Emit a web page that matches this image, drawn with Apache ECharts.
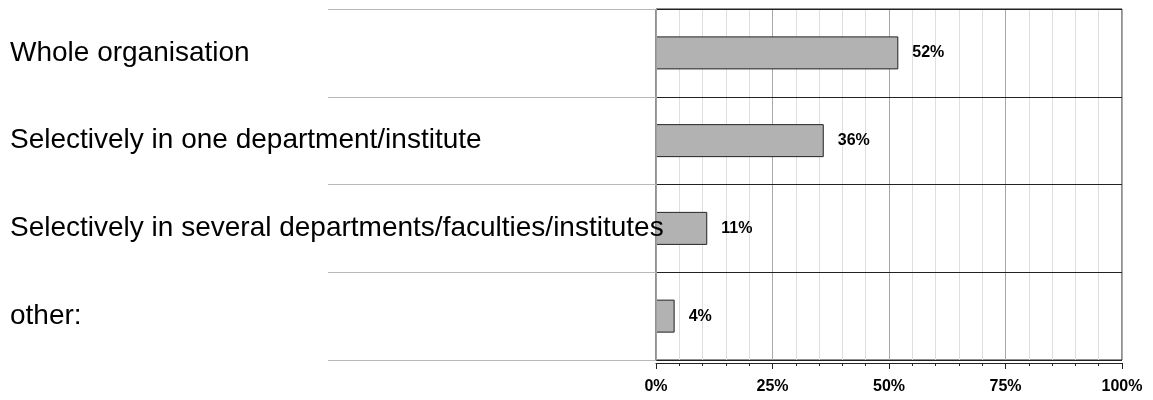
<!DOCTYPE html>
<html>
<head>
<meta charset="utf-8">
<script src="https://cdn.jsdelivr.net/npm/echarts@6/dist/echarts.min.js"></script>
<style>
html,body{margin:0;padding:0;background:#fff;}
#chart{width:1153px;height:400px;}
</style>
</head>
<body>
<div id="chart"></div>
<script>
const categories = [
  'Whole organisation',
  'Selectively in one department/institute',
  'Selectively in several departments/faculties/institutes',
  'other:'
];
const values = [52, 36, 11, 4];
const tickLabels = ['0%', '25%', '50%', '75%', '100%'];

const FONT = '"Liberation Sans", Arial, sans-serif';
const chart = echarts.init(document.getElementById('chart'), null, {renderer: 'canvas'});

chart.setOption({
  animation: false,
  backgroundColor: '#fff',
  grid: [
    {left: 656, right: 31, top: 9, bottom: 40, show: true, borderColor: '#222', borderWidth: 1, backgroundColor: 'transparent'},
    {left: 328, right: 497, top: 9, bottom: 40, show: false}
  ],
  xAxis: [
    {
      gridIndex: 0, type: 'value', min: 0, max: 100, interval: 25, offset: 3,
      axisLine: {show: true, lineStyle: {color: '#222', width: 1}},
      axisTick: {show: true, length: 6, lineStyle: {color: '#222'}},
      minorTick: {show: true, splitNumber: 5, length: 3, lineStyle: {color: '#222'}},
      splitLine: {show: true, lineStyle: {color: '#a8a8a8', width: 1}},
      minorSplitLine: {show: true, lineStyle: {color: '#dedede', width: 1}},
      axisLabel: {
        margin: 16, fontFamily: FONT, fontSize: 16, fontWeight: 'bold', color: '#000',
        formatter: function (v) { return tickLabels[Math.round(v / 25)]; }
      }
    },
    {gridIndex: 1, type: 'value', show: false, min: 0, max: 1}
  ],
  yAxis: [
    {
      gridIndex: 0, type: 'category', inverse: true, data: categories, z: 5,
      axisLine: {show: true, lineStyle: {color: '#a0a0a0'}},
      axisTick: {show: false},
      splitLine: {show: true, lineStyle: {color: '#222', width: 1}},
      axisLabel: {
        margin: 646, align: 'left', fontFamily: FONT, fontSize: 28, color: '#000',
        padding: [4, 0, 0, 0]
      }
    },
    {
      gridIndex: 1, type: 'category', inverse: true, data: categories,
      axisLine: {show: false}, axisTick: {show: false}, axisLabel: {show: false},
      splitLine: {show: true, lineStyle: {color: '#b8b8b8', width: 1}}
    }
  ],
  series: [
    {
      type: 'bar', xAxisIndex: 0, yAxisIndex: 0, data: values, barWidth: 33,
      itemStyle: {color: '#b2b2b2', borderColor: '#222', borderWidth: 1},
      label: {
        show: true, position: 'right', distance: 14, formatter: '{c}%',
        fontFamily: FONT, fontSize: 16, fontWeight: 'bold', color: '#000'
      }
    }
  ]
});
</script>
</body>
</html>
